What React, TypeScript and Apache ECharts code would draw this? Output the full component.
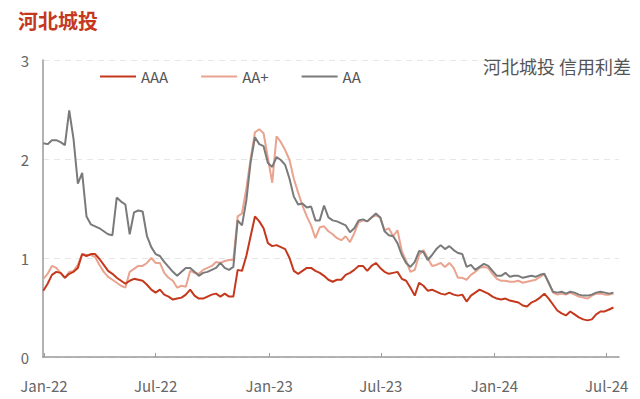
import React, { useEffect, useRef } from "react";
import * as echarts from "echarts";

const seriesNames = ["AAA", "AA+", "AA"];
const xTickLabels = ["Jan-22", "Jul-22", "Jan-23", "Jul-23", "Jan-24", "Jul-24"];
const xTickDates = ["2022-01-01", "2022-07-01", "2023-01-01", "2023-07-01", "2024-01-01", "2024-07-01"];
const firstWeek = "2021-12-31";
const weekCount = 133;

const aaa = [
  0.67, 0.74, 0.83, 0.86, 0.85, 0.80, 0.84, 0.86, 0.90, 1.04,
  1.02, 1.04, 1.04, 0.99, 0.93, 0.87, 0.84, 0.80, 0.77, 0.74,
  0.77, 0.79, 0.78, 0.77, 0.73, 0.68, 0.65, 0.68, 0.63, 0.61,
  0.58, 0.59, 0.60, 0.63, 0.68, 0.62, 0.59, 0.59, 0.61, 0.63,
  0.64, 0.61, 0.64, 0.61, 0.61, 0.88, 0.87, 1.02, 1.22, 1.42,
  1.37, 1.30, 1.15, 1.12, 1.13, 1.11, 1.09, 1.00, 0.87, 0.84,
  0.87, 0.90, 0.90, 0.87, 0.85, 0.82, 0.78, 0.76, 0.78, 0.78,
  0.83, 0.85, 0.88, 0.92, 0.92, 0.87, 0.92, 0.95, 0.90, 0.86,
  0.84, 0.85, 0.86, 0.79, 0.77, 0.70, 0.62, 0.75, 0.72, 0.67,
  0.68, 0.66, 0.64, 0.63, 0.65, 0.63, 0.62, 0.63, 0.56, 0.62,
  0.65, 0.68, 0.66, 0.64, 0.61, 0.59, 0.58, 0.59, 0.57, 0.56,
  0.55, 0.52, 0.51, 0.55, 0.57, 0.60, 0.64, 0.59, 0.53, 0.47,
  0.44, 0.42, 0.46, 0.43, 0.40, 0.38, 0.37, 0.38, 0.43, 0.46,
  0.46, 0.48, 0.50,
];

const aaPlus = [
  0.79, 0.84, 0.92, 0.90, 0.85, 0.80, 0.86, 0.87, 0.93, 1.04,
  1.03, 1.03, 1.01, 0.93, 0.86, 0.81, 0.78, 0.75, 0.72, 0.70,
  0.86, 0.89, 0.92, 0.92, 0.95, 1.00, 0.95, 0.95, 0.85, 0.80,
  0.77, 0.70, 0.72, 0.71, 0.87, 0.85, 0.84, 0.88, 0.90, 0.92,
  0.96, 0.95, 0.97, 0.98, 0.98, 1.42, 1.45, 1.70, 2.00, 2.27,
  2.30, 2.26, 2.01, 1.76, 2.23, 2.17, 2.09, 1.99, 1.80, 1.66,
  1.53, 1.42, 1.33, 1.20, 1.31, 1.32, 1.27, 1.24, 1.20, 1.18,
  1.22, 1.16, 1.25, 1.36, 1.38, 1.37, 1.41, 1.43, 1.41, 1.28,
  1.30, 1.22, 1.28, 1.07, 0.97, 0.86, 0.88, 1.03, 1.08, 1.00,
  0.92, 0.93, 0.95, 0.91, 0.95, 0.90, 0.80, 0.80, 0.78, 0.83,
  0.86, 0.90, 0.91, 0.90, 0.84, 0.79, 0.77, 0.77, 0.76, 0.76,
  0.77, 0.75, 0.76, 0.77, 0.78, 0.81, 0.84, 0.75, 0.65, 0.63,
  0.64, 0.63, 0.65, 0.63, 0.61, 0.60, 0.59, 0.62, 0.64, 0.64,
  0.63, 0.63, 0.64,
];

const aa = [
  2.16, 2.15, 2.19, 2.19, 2.17, 2.14, 2.49, 2.20, 1.75, 1.86,
  1.42, 1.34, 1.32, 1.30, 1.27, 1.24, 1.23, 1.61, 1.57, 1.54,
  1.24, 1.46, 1.48, 1.47, 1.22, 1.11, 1.04, 1.02, 0.96, 0.91,
  0.86, 0.82, 0.86, 0.90, 0.90, 0.86, 0.82, 0.85, 0.86, 0.88,
  0.90, 0.95, 0.90, 0.88, 0.91, 1.38, 1.33, 1.58, 1.97, 2.22,
  2.15, 2.13, 1.96, 1.92, 2.02, 1.99, 1.94, 1.80, 1.62, 1.54,
  1.55, 1.51, 1.52, 1.38, 1.38, 1.53, 1.41, 1.38, 1.37, 1.35,
  1.33, 1.26, 1.30, 1.38, 1.39, 1.37, 1.41, 1.45, 1.41, 1.27,
  1.23, 1.22, 1.15, 1.03, 0.95, 0.91, 0.96, 1.07, 1.06, 0.98,
  1.03, 1.09, 1.13, 1.09, 1.12, 1.08, 1.05, 1.04, 0.91, 0.93,
  0.88, 0.91, 0.94, 0.92, 0.87, 0.82, 0.82, 0.85, 0.81, 0.82,
  0.82, 0.80, 0.81, 0.82, 0.81, 0.83, 0.84, 0.75, 0.66, 0.65,
  0.66, 0.64, 0.66, 0.65, 0.63, 0.62, 0.62, 0.63, 0.65, 0.66,
  0.65, 0.64, 0.65,
];

const FONT = "'Noto Sans CJK SC', 'Noto Sans', sans-serif";
const DAY = 86400000;

function weekDates(): number[] {
  const start = Date.parse(firstWeek + "T00:00:00Z");
  const out: number[] = [];
  for (let i = 0; i < weekCount; i++) out.push(start + i * 7 * DAY);
  return out;
}

export default function App() {
  const ref = useRef<HTMLDivElement>(null);

  useEffect(() => {
    if (!ref.current) return;
    const chart = echarts.init(ref.current, null, { renderer: "svg" });
    const dates = weekDates();
    const tickTs = xTickDates.map((d) => Date.parse(d + "T00:00:00Z"));
    const labelFor = (v: number) => {
      let best = 0;
      let bd = Infinity;
      tickTs.forEach((t, i) => {
        const d = Math.abs(t - v);
        if (d < bd) { bd = d; best = i; }
      });
      return xTickLabels[best];
    };
    const mk = (vals: number[]) => vals.map((v, i) => [dates[i], v]);
    const colors = ["#C4391D", "#E9A38F", "#7A7A7A"];
    const values = [aaa, aaPlus, aa];
    const zs = [5, 3, 4];

    chart.setOption({
      animation: false,
      backgroundColor: "#ffffff",
      title: [
        {
          text: "河北城投",
          left: 18,
          top: 10,
          padding: 0,
          textStyle: { color: "#C4391D", fontSize: 20, fontWeight: "bold", fontFamily: FONT },
        },
        {
          text: "河北城投 信用利差",
          right: 9,
          top: 57,
          padding: 0,
          textStyle: { color: "#555555", fontSize: 18, fontWeight: "normal", fontFamily: FONT },
        },
      ],
      legend: {
        left: 100,
        top: 69,
        padding: 0,
        itemWidth: 36,
        itemHeight: 2,
        itemGap: 33,
        icon: "rect",
        textStyle: { color: "#555555", fontSize: 15, fontFamily: FONT },
        data: seriesNames,
      },
      grid: { left: 43, right: 21, top: 60, bottom: 42, containLabel: false },
      xAxis: {
        type: "value",
        min: Date.parse("2021-12-30T12:00:00Z"),
        max: Date.parse("2024-07-21T00:00:00Z"),
        axisLine: { show: true, lineStyle: { color: "#9A9A9A", width: 1.5 } },
        axisTick: {
          show: true,
          inside: true,
          length: 4,
          customValues: tickTs,
          lineStyle: { color: "#9A9A9A" },
        },
        axisLabel: {
          customValues: tickTs,
          formatter: (v: number) => labelFor(v),
          color: "#666666",
          fontSize: 15,
          fontFamily: FONT,
          margin: 21,
          showMinLabel: true,
          showMaxLabel: true,
        },
        splitLine: { show: false },
      },
      yAxis: {
        type: "value",
        min: 0,
        max: 3,
        interval: 1,
        axisLine: { show: true, lineStyle: { color: "#9A9A9A", width: 1.5 } },
        axisTick: { show: false },
        axisLabel: { color: "#666666", fontSize: 15, fontFamily: FONT, margin: 14 },
        splitLine: { show: true, lineStyle: { color: "#E6E6E6", type: [6, 5], width: 1 } },
      },
      series: seriesNames.map((name, k) => ({
        name,
        type: "line",
        data: mk(values[k]),
        showSymbol: false,
        symbol: "none",
        z: zs[k],
        lineStyle: { color: colors[k], width: 2 },
        itemStyle: { color: colors[k] },
      })),
    });

    return () => chart.dispose();
  }, []);

  return (
    <div
      ref={ref}
      style={{ position: "fixed", left: 0, top: 0, width: 640, height: 399 }}
    />
  );
}
